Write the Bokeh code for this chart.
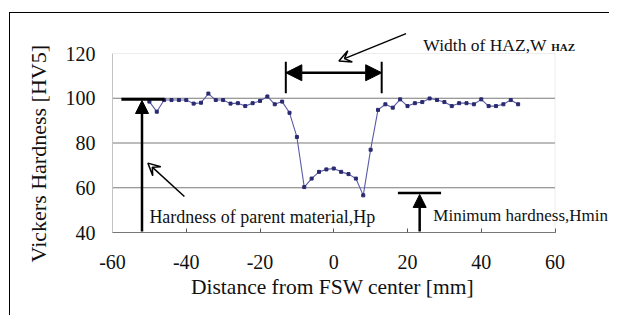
from bokeh.plotting import figure
from bokeh.models import (Range1d, FixedTicker, Arrow, VeeHead, NormalHead, Label, BoxAnnotation,
                          Title, LinearAxis)
from bokeh.embed import file_html
from bokeh.resources import INLINE

# ---- data ----
distance_mm = [-50, -48, -46, -44, -42, -40, -38, -36, -34, -32, -30, -28, -26, -24, -22,
               -20, -18, -16, -14, -12, -10, -8, -6, -4, -2, 0, 2, 4, 6, 8, 10, 12, 14,
               16, 18, 20, 22, 24, 26, 28, 30, 32, 34, 36, 38, 40, 42, 44, 46, 48, 50]
hardness_hv5 = [98.5, 94.0, 99.2, 99.2, 99.2, 99.2, 97.6, 98.0, 102.1, 99.2, 99.2, 97.6, 97.8,
                96.5, 97.8, 98.8, 100.8, 97.3, 98.5, 93.5, 82.7, 60.3, 64.1, 67.1, 68.2, 68.6,
                67.1, 66.1, 64.1, 56.6, 77.0, 94.8, 97.3, 95.8, 99.5, 96.5, 97.8, 98.3, 99.9,
                99.2, 98.3, 96.5, 97.8, 97.8, 97.3, 99.5, 96.5, 96.5, 97.3, 99.2, 97.3]
x_ticks = [-60, -40, -20, 0, 20, 40, 60]
y_ticks = [40, 60, 80, 100, 120]
grid_ticks = [60, 80, 100]
x_title = "Distance from FSW center [mm]"
y_title = "Vickers Hardness [HV5]"

FONT = "Liberation Serif"
TXT = "#111111"

# plot area (x -60..60, y 40..120) is 442.5 x 219 px; the frame is extended
# to the right and top so that annotations outside the plot area are drawn
W, H = 600, 303
X_PX = 3.6875
Y_PX = 2.2375
x_end = x_ticks[-1] + (W - 102 - 442.5) / X_PX
y_end = y_ticks[-1] + 40 / Y_PX

p = figure(width=W, height=H, output_backend="svg", toolbar_location=None,
           x_range=Range1d(x_ticks[0], x_end), y_range=Range1d(y_ticks[0], y_end),
           min_border_left=102, min_border_right=0, min_border_top=0, min_border_bottom=H - 219,
           margin=(12, 0, 0, 9))
p.styles = {"border-left": "1.5px solid black", "border-top": "1.5px solid black"}

p.outline_line_color = None
p.background_fill_color = "white"
p.border_fill_color = "white"
p.xgrid.visible = False
p.ygrid.visible = False

# plot-area box and horizontal gridlines
p.add_layout(BoxAnnotation(left=x_ticks[0], right=x_ticks[-1], bottom=y_ticks[0], top=y_ticks[-1],
                           fill_color=None, line_color="#c4c4c4", line_width=1))
p.segment(x0=[x_ticks[0]] * len(grid_ticks), x1=[x_ticks[-1]] * len(grid_ticks),
          y0=grid_ticks, y1=grid_ticks, line_color="#7a7a7a", line_width=1.2)

p.xaxis.ticker = FixedTicker(ticks=x_ticks)
p.yaxis.ticker = FixedTicker(ticks=y_ticks)
p.xaxis.bounds = (x_ticks[0], x_ticks[-1])
p.yaxis.bounds = (y_ticks[0], y_ticks[-1])
p.xaxis.major_label_overrides = {t: str(t) for t in x_ticks}
p.yaxis.major_label_overrides = {t: str(t) for t in y_ticks}
p.xaxis.axis_line_color = "#6a6a6a"
p.xaxis.axis_line_width = 1.2
p.xaxis.major_tick_in = 4
p.xaxis.major_tick_out = 0
p.xaxis.major_tick_line_color = "#555555"
p.xaxis.minor_tick_line_color = None
p.xaxis.minor_tick_out = 0
p.yaxis.axis_line_color = "#c4c4c4"
p.yaxis.major_tick_in = 0
p.yaxis.major_tick_out = 0
p.yaxis.minor_tick_out = 0
p.yaxis.major_tick_line_color = None
p.yaxis.minor_tick_line_color = None

for ax in (p.xaxis, p.yaxis):
    ax.major_label_text_font = FONT
    ax.major_label_text_font_size = "20px"
    ax.major_label_text_color = TXT
p.xaxis.major_label_standoff = 22
p.yaxis.major_label_standoff = 17

# empty spacer axis (no ticks, no labels) between the x axis and its title
spacer = LinearAxis(ticker=FixedTicker(ticks=[]), axis_line_color=None,
                    major_tick_in=0, major_tick_out=12, minor_tick_in=0, minor_tick_out=0,
                    major_label_standoff=0, major_tick_line_color="white",
                    minor_tick_line_color=None)
p.add_layout(spacer, "below")

# axis titles, positioned over the plot area (not over the extended frame)
p.add_layout(Title(text=x_title, align="left", offset=78.5, vertical_align="top", standoff=6,
                   text_font=FONT, text_font_size="21.5px", text_font_style="normal",
                   text_color=TXT), "below")
p.add_layout(Title(text=y_title, align="right", offset=31.5, vertical_align="bottom", standoff=23,
                   text_font=FONT, text_font_size="22px", text_font_style="normal",
                   text_color=TXT), "left")

# ---- data series ----
p.line(distance_mm, hardness_hv5, line_color="#5a5aa8", line_width=1.1)
p.scatter(distance_mm, hardness_hv5, marker="square", size=3,
          fill_color="#2a2a70", line_color="#2a2a70")

# ---- annotations ----
HEAD = dict(fill_color="black", line_color="black")
# HAZ width double arrow with end bars
p.add_layout(Arrow(start=NormalHead(size=16, **HEAD), end=NormalHead(size=16, **HEAD),
                   x_start=-13, y_start=111.4, x_end=13, y_end=111.4,
                   line_width=2.5, line_color="black"))
for xb in (-13, 13):
    p.add_layout(Arrow(end=None, x_start=xb, y_start=102.2, x_end=xb, y_end=116.3,
                       line_width=2, line_color="black"))
# pointer to HAZ width
p.add_layout(Arrow(end=VeeHead(size=12, line_width=1.5, fill_color=None, line_color="black"),
                   x_start=19.6, y_start=128.9, x_end=1.4, y_end=116.7,
                   line_width=1.5, line_color="black"))
p.add_layout(Label(x=24.3, y=123.8, text="Width of HAZ,W", text_font=FONT,
                   text_font_size="17.5px", text_color=TXT, text_baseline="alphabetic"))
p.add_layout(Label(x=59.0, y=122.7, text="HAZ", text_font=FONT, text_font_style="bold",
                   text_font_size="11px", text_color=TXT, text_baseline="alphabetic"))

# parent material hardness
p.add_layout(Arrow(end=None, x_start=-57.6, y_start=99.6, x_end=-45.9, y_end=99.6,
                   line_width=3, line_color="black"))
p.add_layout(Arrow(end=NormalHead(size=13, **HEAD),
                   x_start=-52.0, y_start=40.5, x_end=-52.0, y_end=99.0,
                   line_width=2.5, line_color="black"))
p.add_layout(Arrow(end=VeeHead(size=12, line_width=1.5, fill_color=None, line_color="black"),
                   x_start=-40.5, y_start=56.1, x_end=-50.4, y_end=71.0,
                   line_width=1.5, line_color="black"))
p.add_layout(Label(x=-50.0, y=47.1, text="Hardness of parent material,Hp", text_font=FONT,
                   text_font_size="18px", text_color=TXT, text_baseline="alphabetic"))

# minimum hardness
p.add_layout(Arrow(end=None, x_start=17.4, y_start=57.6, x_end=29.1, y_end=57.6,
                   line_width=2.5, line_color="black"))
p.add_layout(Arrow(end=NormalHead(size=13, **HEAD),
                   x_start=23.3, y_start=40.5, x_end=23.3, y_end=57.0,
                   line_width=2.5, line_color="black"))
p.add_layout(Label(x=27.0, y=47.6, text="Minimum hardness,Hmin", text_font=FONT,
                   text_font_size="17px", text_color=TXT, text_baseline="alphabetic"))

open("out.html", "w").write(file_html(p, INLINE))
